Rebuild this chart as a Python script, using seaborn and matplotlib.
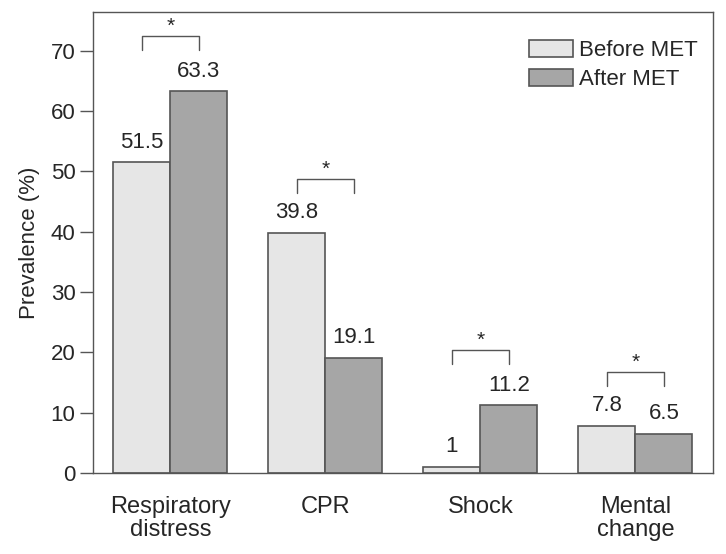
import matplotlib
matplotlib.use('Agg')
import matplotlib.pyplot as plt
import seaborn as sns
import pandas as pd

# Values
categories = ['Respiratory\ndistress', 'CPR', 'Shock', 'Mental\nchange']
before_met = [51.5, 39.8, 1, 7.8]
after_met = [63.3, 19.1, 11.2, 6.5]
before_labels = ['51.5', '39.8', '1', '7.8']
after_labels = ['63.3', '19.1', '11.2', '6.5']
bracket_tops = [72.4, 48.8, 20.4, 16.7]
y_ticks = [0, 10, 20, 30, 40, 50, 60, 70]

sns.set_style('white')
plt.rcParams['font.family'] = ['Liberation Sans', 'DejaVu Sans']

df = pd.DataFrame({
    'category': categories * 2,
    'value': before_met + after_met,
    'group': ['Before MET'] * 4 + ['After MET'] * 4,
})

line_col = '#555555'
fig = plt.figure(figsize=(7.26, 5.54), dpi=100)
ax = fig.add_axes([0.128, 0.1466, 0.854, 0.8312])

bar_w = 0.735
sns.barplot(data=df, x='category', y='value', hue='group',
            palette=['#e6e6e6', '#a6a6a6'], width=bar_w, gap=0,
            edgecolor=line_col, linewidth=1.2, ax=ax)

half = bar_w / 4
for i in range(len(categories)):
    ax.annotate(before_labels[i], (i - half, before_met[i]), xytext=(0, 7),
                textcoords='offset points', ha='center', va='bottom', fontsize=16)
    ax.annotate(after_labels[i], (i + half, after_met[i]), xytext=(0, 7),
                textcoords='offset points', ha='center', va='bottom', fontsize=16)
    top = bracket_tops[i]
    ax.plot([i - half, i - half, i + half, i + half], [top - 2.3, top, top, top - 2.3],
            color=line_col, lw=1)
    ax.text(i, top + 1.6, '*', ha='center', va='center', fontsize=15)

ax.set_xlim(-0.5, 3.5)
ax.set_ylim(0, 76.4)
ax.set_yticks(y_ticks)
ax.set_xticks(range(len(categories)))
ax.set_xticklabels(categories, fontsize=17, linespacing=1.05)
ax.set_xticks([-0.5, 0.5, 1.5, 2.5, 3.5], minor=True)
ax.tick_params(axis='x', which='major', length=0, pad=17)
ax.tick_params(axis='x', which='minor', length=10, width=1, color=line_col, direction='out')
ax.tick_params(axis='y', length=9.5, width=1, color=line_col, direction='out', labelsize=16, pad=3, left=True)
ax.set_xlabel('')
ax.set_ylabel('Prevalence (%)', fontsize=16, labelpad=8)
for s in ax.spines.values():
    s.set_color(line_col)
    s.set_linewidth(1)

ax.legend(loc='upper right', bbox_to_anchor=(0.975, 0.94), frameon=False, fontsize=16,
          handlelength=2.0, handleheight=0.8, handletextpad=0.25, labelspacing=0.35,
          borderpad=0, borderaxespad=0)

fig.savefig('out.png', dpi=100)
